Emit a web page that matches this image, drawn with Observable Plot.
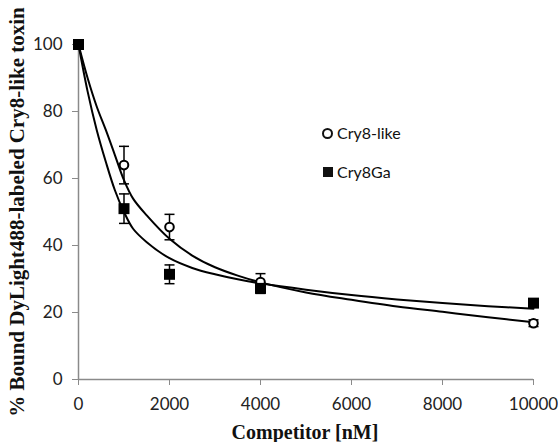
<!DOCTYPE html>
<html>
<head>
<meta charset="utf-8">
<script src="https://cdn.jsdelivr.net/npm/d3@7"></script>
<script src="https://cdn.jsdelivr.net/npm/@observablehq/plot@0.6"></script>
<style>
  html, body { margin: 0; padding: 0; background: #fff; }
  #wrap { position: relative; width: 558px; height: 442px; overflow: hidden; }
  #wrap svg { font-family: Lato, "Open Sans", sans-serif; display: block; }
  .title { position: absolute; font-family: "Liberation Serif", "Times New Roman", serif;
    font-weight: bold; font-size: 19px; color: #111; white-space: nowrap; line-height: 1; }
  .legend { position: absolute; left: 0; top: 0; font-family: Lato, "Open Sans", sans-serif; font-size: 16px; color: #111; }
  .legend .item { position: absolute; white-space: nowrap; display: flex; align-items: center; line-height: 1; }
  .legend .circ { width: 7px; height: 7px; border: 2px solid #111; border-radius: 50%; background: #fff; margin-right: 4px; }
  .legend .sq { width: 10px; height: 10px; background: #111; margin-right: 4px; }
</style>
</head>
<body>
<div id="wrap"></div>
<script>
// Competitor concentrations (nM)
const concentrations = [0, 1000, 2000, 4000, 10000];
// Cry8-like (open circles)
const cry8likeMean = [100, 64, 45.5, 29.1, 16.8];
const cry8likeErr  = [0, 5.6, 3.8, 2.5, 1.0];
// Cry8Ga (filled squares)
const cry8gaMean = [100, 51, 31.4, 27.2, 22.8];
const cry8gaErr  = [0, 4.4, 2.8, 1.5, 1.0];

// Fitted curves
const fitX        = [0, 200, 400, 600, 800, 1000, 1200, 1500, 2000, 2500, 3000, 3500, 4000, 5000, 6000, 7000, 8000, 9000, 10000];
const cry8likeFit = [100, 90, 81.5, 74.5, 67, 59.5, 54, 49, 42, 37, 33.5, 31, 29, 26, 23.8, 21.8, 20.2, 18.6, 17.1];
const cry8gaFit   = [100, 86, 74.5, 65, 56.5, 50, 45, 41, 36.2, 33.3, 31.4, 29.9, 28.7, 26.8, 25.2, 23.9, 22.8, 21.9, 21.1];

const xTicks = [0, 2000, 4000, 6000, 8000, 10000];
const yTicks = [0, 20, 40, 60, 80, 100];

const seriesNames = ["Cry8-like", "Cry8Ga"];
const xTitle = "Competitor [nM]";
const yTitle = "% Bound DyLight488-labeled Cry8-like toxin";

const points = [];
concentrations.forEach((c, i) => {
  points.push({series: seriesNames[0], x: c, y: cry8likeMean[i], e: cry8likeErr[i]});
  points.push({series: seriesNames[1], x: c, y: cry8gaMean[i], e: cry8gaErr[i]});
});
const errPts = points.filter(d => d.e > 0);
const fits = [];
fitX.forEach((x, i) => {
  fits.push({series: seriesNames[0], x, y: cry8likeFit[i]});
  fits.push({series: seriesNames[1], x, y: cry8gaFit[i]});
});

const capSymbol = {
  draw(context, size) {
    const r = Math.sqrt(size / Math.PI);
    context.moveTo(-r, 0);
    context.lineTo(r, 0);
  }
};

const gray = "#8a8a8a";

const chart = Plot.plot({
  width: 558,
  height: 442,
  marginLeft: 78,
  marginRight: 25,
  marginTop: 44,
  marginBottom: 63,
  style: {fontSize: "17px", color: "#222", background: "#fff"},
  x: {domain: [0, 10000]},
  y: {domain: [0, 100]},
  marks: [
    Plot.ruleY([0], {stroke: gray, strokeWidth: 1.5}),
    Plot.ruleX([0], {stroke: gray, strokeWidth: 1.5}),
    Plot.axisX({ticks: xTicks, tickSize: 6, tickPadding: 12, stroke: gray, fill: "#222",
      tickFormat: d => String(d), label: null}),
    Plot.axisY({ticks: yTicks, tickSize: 6, tickPadding: 10, stroke: gray, fill: "#222", label: null}),
    Plot.line(fits, {x: "x", y: "y", z: "series", curve: "catmull-rom", stroke: "#000", strokeWidth: 2}),
    Plot.ruleX(errPts, {x: "x", y1: d => d.y - d.e, y2: d => d.y + d.e, stroke: "#000", strokeWidth: 1.5}),
    Plot.dot(errPts, {x: "x", y: d => d.y + d.e, symbol: capSymbol, r: 5, stroke: "#000", strokeWidth: 1.5}),
    Plot.dot(errPts, {x: "x", y: d => d.y - d.e, symbol: capSymbol, r: 5, stroke: "#000", strokeWidth: 1.5}),
    Plot.dot(points.filter(d => d.series === "Cry8-like"), {x: "x", y: "y", symbol: "circle", r: 4.3, fill: "#fff", stroke: "#000", strokeWidth: 2}),
    Plot.dot(points.filter(d => d.series === "Cry8Ga"), {x: "x", y: "y", symbol: "square", r: 6.2, fill: "#000", stroke: "none"})
  ]
});

const wrap = document.getElementById("wrap");
wrap.appendChild(chart);

const xt = document.createElement("div");
xt.className = "title";
xt.textContent = xTitle;
xt.style.left = "305px";
xt.style.top = "432px";
xt.style.fontSize = "20px";
xt.style.transform = "translate(-50%, -50%)";
wrap.appendChild(xt);

const yt = document.createElement("div");
yt.className = "title";
yt.textContent = yTitle;
yt.style.left = "17px";
yt.style.top = "212px";
yt.style.fontSize = "21px";
yt.style.transform = "translate(-50%, -50%) rotate(-90deg)";
wrap.appendChild(yt);

const legend = document.createElement("div");
legend.className = "legend";
legend.innerHTML = `
  <div class="item" style="left:322px; top:125px;"><span class="circ"></span>${seriesNames[0]}</div>
  <div class="item" style="left:323px; top:164px;"><span class="sq"></span>${seriesNames[1]}</div>`;
wrap.appendChild(legend);
</script>
</body>
</html>
